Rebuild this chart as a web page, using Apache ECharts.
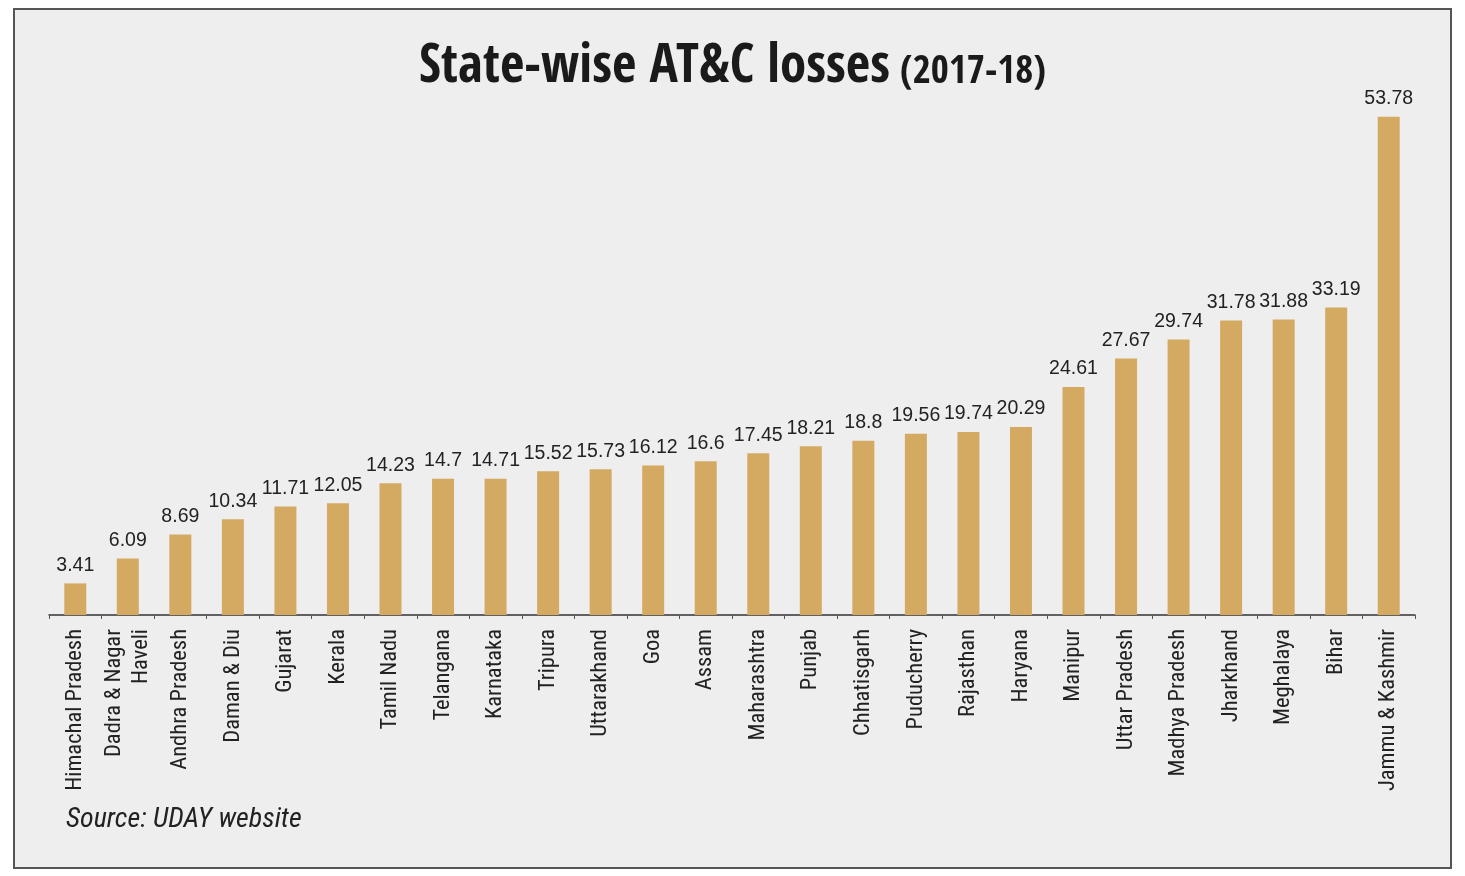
<!DOCTYPE html>
<html>
<head>
<meta charset="utf-8">
<script src="https://cdn.jsdelivr.net/npm/echarts@6/dist/echarts.min.js"></script>
<style>
html,body{margin:0;padding:0;background:#fff;}
#c{width:1465px;height:876px;}
</style>
</head>
<body>
<div id="c"></div>
<script>
const categories = ["Himachal Pradesh","Dadra & Nagar\nHaveli","Andhra Pradesh","Daman & Diu","Gujarat","Kerala","Tamil Nadu","Telangana","Karnataka","Tripura","Uttarakhand","Goa","Assam","Maharashtra","Punjab","Chhatisgarh","Puducherry","Rajasthan","Haryana","Manipur","Uttar Pradesh","Madhya Pradesh","Jharkhand","Meghalaya","Bihar","Jammu & Kashmir"];
const values = [3.41,6.09,8.69,10.34,11.71,12.05,14.23,14.7,14.71,15.52,15.73,16.12,16.6,17.45,18.21,18.8,19.56,19.74,20.29,24.61,27.67,29.74,31.78,31.88,33.19,53.78];
const titleMain = "State-wise AT&C losses";
const titleYear = "(2017-18)";
const sourceText = "Source: UDAY website";

const chart = echarts.init(document.getElementById('c'));
chart.setOption({
  backgroundColor: '#ffffff',
  animation: false,
  graphic: [
    {type:'rect', z:-10, shape:{x:14,y:9,width:1437,height:859}, style:{fill:'#eeeeee', stroke:'#555555', lineWidth:2}},
    {type:'text', left:66, top:806, style:{text:sourceText, font:'italic 28px "Roboto Condensed"', fill:'#222'}}
  ],
  title: {
    text: '{a|' + titleMain + '}{b|' + titleYear + '}',
    left: 'center',
    top: 37,
    textStyle: {
      rich: {
        a: {fontFamily:'"Open Sans Condensed"', fontWeight:'bold', fontSize:53, color:'#1a1a1a', padding:[0,10,0,0]},
        b: {fontFamily:'"Open Sans Condensed"', fontWeight:'bold', fontSize:39, color:'#1a1a1a', padding:[8,0,0,0]}
      }
    }
  },
  grid: {left:49, right:50, top:59, bottom:261, containLabel:false},
  xAxis: {
    type:'category',
    data: categories,
    axisLine:{lineStyle:{color:'#333', width:1.5}},
    axisTick:{show:true, length:4, lineStyle:{color:'#555'}},
    axisLabel:{rotate:90, interval:0, margin:14, fontFamily:'"Roboto Condensed"', fontSize:22.5, color:'#222', lineHeight:27}
  },
  yAxis: {
    type:'value', min:0, max:60, show:false, splitLine:{show:false}
  },
  series: [{
    type:'bar',
    data: values,
    barWidth: 22,
    itemStyle:{color:'#d4aa63'},
    label:{show:true, position:'top', distance:8, fontFamily:'"Liberation Sans"', fontSize:19.5, color:'#222'}
  }]
});
</script>
</body>
</html>
